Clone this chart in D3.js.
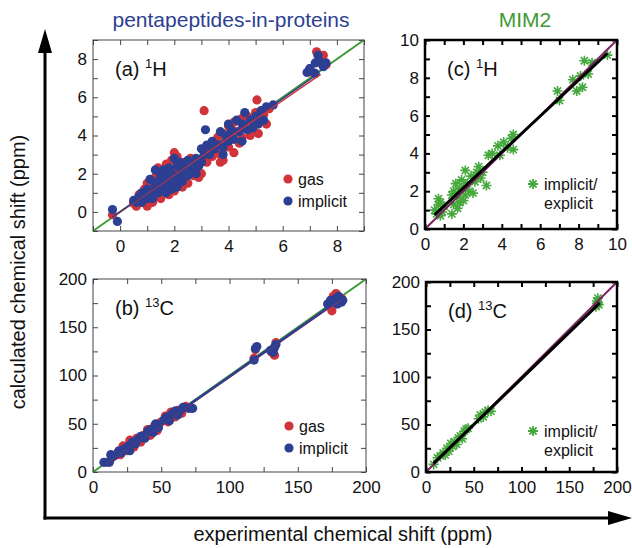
<!DOCTYPE html>
<html>
<meta charset="utf-8">
<style>
    body { margin: 0; background: #fff; }
    text { font-family: 'Liberation Sans', Arial, sans-serif; }
</style>
<body>
<svg id="chart" width="632" height="548"></svg>
<script src="https://d3js.org/d3.v7.min.js"></script>
<script>
// ---- data ----
const hGas = [[-0.28,-0.15],[0.5,0.45],[0.6,0.3],[0.7,0.9],[0.8,0.5],[0.9,1.2],[0.9,0.6],[1.0,1.5],[1.0,0.3],[1.1,0.9],[1.2,1.3],[1.2,0.5],[1.3,1.8],[1.3,0.8],[1.4,2.3],[1.4,1.1],[1.5,0.7],[1.5,1.6],[1.6,2.0],[1.6,1.0],[1.7,2.5],[1.7,1.3],[1.8,1.8],[1.8,0.9],[1.9,2.7],[1.9,1.4],[2.0,3.1],[2.0,2.2],[2.0,1.1],[2.1,2.9],[2.1,1.6],[2.2,2.0],[2.3,1.3],[2.3,2.6],[2.4,1.8],[2.5,2.3],[2.5,1.5],[2.6,2.8],[2.7,1.9],[2.8,2.4],[2.9,1.8],[3.0,2.7],[3.0,2.0],[3.1,5.3],[3.1,3.2],[3.2,2.6],[3.3,3.4],[3.4,2.9],[3.5,3.6],[3.5,3.1],[3.6,3.9],[3.7,3.0],[3.7,2.6],[3.8,4.1],[3.8,2.7],[3.9,3.5],[4.0,4.5],[4.0,3.4],[4.1,3.9],[4.2,4.7],[4.2,3.1],[4.3,4.2],[4.4,3.6],[4.5,4.9],[4.5,3.9],[4.6,4.4],[4.7,5.0],[4.8,4.0],[4.9,4.7],[5.0,5.2],[5.05,5.86],[5.1,4.1],[5.2,4.8],[5.3,5.1],[5.4,4.6],[5.5,5.4],[7.0,7.5],[7.1,7.3],[7.25,8.38],[7.4,7.8],[7.5,8.2],[7.6,7.7]];
const hImplicit = [[-0.28,0.12],[-0.1,-0.5],[0.5,0.6],[0.6,0.5],[0.7,0.8],[0.8,1.0],[0.8,0.5],[0.9,0.9],[1.0,1.2],[1.0,0.7],[1.1,1.7],[1.1,1.0],[1.2,0.7],[1.3,1.4],[1.3,2.2],[1.4,1.0],[1.4,1.6],[1.5,1.9],[1.5,1.2],[1.6,1.5],[1.6,2.2],[1.7,1.0],[1.7,1.8],[1.8,2.3],[1.8,1.4],[1.9,2.0],[1.9,1.2],[2.0,2.8],[2.0,1.7],[2.1,2.4],[2.1,1.3],[2.2,1.9],[2.2,2.6],[2.3,1.6],[2.3,2.2],[2.4,2.5],[2.5,1.9],[2.5,2.7],[2.6,2.2],[2.7,2.5],[2.8,2.0],[2.8,2.8],[2.9,2.4],[3.0,3.3],[3.0,2.6],[3.1,3.0],[3.15,4.3],[3.2,3.5],[3.3,3.0],[3.4,3.7],[3.5,3.3],[3.6,3.5],[3.7,4.2],[3.8,3.4],[3.8,3.0],[3.9,4.0],[4.0,3.7],[4.0,4.6],[4.1,4.3],[4.2,3.8],[4.3,4.8],[4.4,4.2],[4.5,4.6],[4.5,3.7],[4.6,5.2],[4.7,4.3],[4.8,4.8],[4.9,4.4],[5.0,5.0],[5.1,4.6],[5.2,5.3],[5.3,4.8],[5.4,5.5],[5.65,5.6],[6.9,7.3],[7.0,7.5],[7.2,7.8],[7.3,8.2],[7.35,7.9],[7.5,7.6],[7.6,7.8],[7.2,7.25]];
const cGas = [[10,10],[14,15],[18,20],[20,18],[22,27],[25,22],[27,33],[28,28],[30,26],[32,35],[35,31],[37,38],[40,44],[42,38],[45,48],[47,43],[50,52],[53,58],[55,52],[57,62],[60,57],[62,64],[65,61],[68,68],[72,66],[118,118],[119,127],[131,124],[133,121],[134,134],[172,174],[175,167],[176,182],[178,185],[180,176],[182,180]];
const cImplicit = [[8,10],[12,10],[13,18],[16,17],[19,22],[21,20],[23,24],[26,27],[27,22],[29,31],[31,29],[33,34],[35,37],[38,35],[40,42],[42,44],[44,41],[46,50],[48,46],[52,54],[54,57],[56,53],[58,60],[60,63],[62,59],[64,64],[66,67],[70,66],[73,66],[118,116],[120,130],[119,128],[130,126],[132,124],[134,132],[133,129],[172,174],[174,178],[176,176],[178,180],[179,174],[180,182],[182,176],[183,178]];
const mimH = [[0.5,1.0],[0.6,0.8],[0.7,1.3],[0.7,1.6],[0.8,1.4],[0.9,0.9],[1.0,1.2],[0.8,0.7],[1.4,0.8],[1.4,1.8],[1.5,1.3],[1.5,2.0],[1.6,2.4],[1.7,1.1],[1.7,1.7],[1.8,2.1],[1.8,1.4],[1.9,2.6],[2.0,1.5],[2.0,2.2],[2.1,3.1],[2.1,1.8],[2.2,2.4],[2.3,2.0],[2.4,2.8],[2.5,1.9],[2.6,2.5],[2.7,3.0],[2.8,3.3],[2.9,2.7],[3.0,3.0],[3.2,2.3],[3.3,3.9],[3.5,4.0],[3.8,4.4],[3.9,3.9],[4.1,4.6],[4.3,4.3],[4.6,5.0],[4.6,4.2],[4.5,4.8],[6.9,7.3],[7.0,6.8],[7.7,7.9],[7.9,7.3],[8.1,8.1],[8.2,7.5],[8.3,8.9],[8.5,8.2],[8.7,8.8],[9.5,9.2]];
const mimC = [[8,8],[12,15],[15,17],[18,20],[20,18],[22,25],[24,22],[26,30],[28,27],[30,32],[32,29],[34,36],[36,38],[38,35],[40,43],[42,45],[44,46],[55,56],[57,60],[60,58],[62,63],[65,65],[68,64],[178,174],[179,180],[180,178],[181,176],[180,183]];

// fit lines [x1,y1,x2,y2]
const hFitGas = [-0.3, -0.3, 7.4, 7.2];
const hFitImplicit = [-0.3, -0.28, 7.3, 7.22];
const cFitGas = [10, 9.5, 182, 179];
const cFitImplicit = [10, 10, 182, 180];
const mimHFit = [0.5, 0.75, 9.5, 9.3];
const mimCFit = [8, 9, 182, 178];

const hTicks = [-1, 0, 1, 2, 3, 4, 5, 6, 7, 8, 9];
const hLabels = [0, 2, 4, 6, 8];
const cTicks = [0, 25, 50, 75, 100, 125, 150, 175, 200];
const cLabels = [0, 50, 100, 150, 200];
const mTicks = [0, 1, 2, 3, 4, 5, 6, 7, 8, 9, 10];
const mLabels = [0, 2, 4, 6, 8, 10];

const red = "#d0343a", blue = "#2c3f92", green = "#3f9a35", starGreen = "#45a83c", purple = "#7b2360";

const chart = d3.select("#chart");

function panel(opt) {
    const x = d3.scaleLinear().domain(opt.domain).range([opt.x0, opt.x1]);
    const y = d3.scaleLinear().domain(opt.domain).range([opt.y1, opt.y0]);
    const g = chart.append("g");
    const fmt = d => opt.labels.includes(d) ? d : "";

    const axes = [
        [d3.axisBottom(x).tickValues(opt.ticks).tickFormat(fmt).tickPadding(9), "translate(0," + opt.y1 + ")"],
        [d3.axisTop(x).tickValues(opt.ticks).tickFormat(""), "translate(0," + opt.y0 + ")"],
        [d3.axisLeft(y).tickValues(opt.ticks).tickFormat(fmt).tickPadding(6), "translate(" + opt.x0 + ",0)"],
        [d3.axisRight(y).tickValues(opt.ticks).tickFormat(""), "translate(" + opt.x1 + ",0)"]
    ];
    axes.forEach(a => {
        const ax = g.append("g").attr("transform", a[1])
            .call(a[0].tickSize(-opt.tick).tickSizeOuter(0));
        ax.select(".domain").remove();
        ax.selectAll("line").attr("stroke", opt.frameColor).attr("stroke-width", opt.tickWidth);
        ax.selectAll("text").attr("font-size", 17).attr("fill", "#111")
            .attr("font-family", "'Liberation Sans', Arial, sans-serif");
    });

    const plot = g.append("g");
    opt.draw(plot, x, y);

    g.append("rect")
        .attr("x", opt.x0).attr("y", opt.y0)
        .attr("width", opt.x1 - opt.x0).attr("height", opt.y1 - opt.y0)
        .attr("fill", "none").attr("stroke", opt.frameColor).attr("stroke-width", opt.frameWidth);

    const lab = g.append("text").attr("x", opt.x0 + 22).attr("y", opt.y0 + 36)
        .attr("font-size", 20).attr("fill", "#111");
    lab.append("tspan").text(opt.tag + " ");
    lab.append("tspan").attr("font-size", 13).attr("dy", -8).text(opt.iso);
    lab.append("tspan").attr("dy", 8).text(opt.elem);
    return { x, y };
}

function line(p, x, y, seg, color, w) {
    p.append("line")
        .attr("x1", x(seg[0])).attr("y1", y(seg[1]))
        .attr("x2", x(seg[2])).attr("y2", y(seg[3]))
        .attr("stroke", color).attr("stroke-width", w);
}

function dots(p, x, y, data, color) {
    p.append("g").selectAll("circle").data(data).join("circle")
        .attr("cx", d => x(d[0])).attr("cy", d => y(d[1]))
        .attr("r", 4.6).attr("fill", color);
}

const starPath = "M-5,0L5,0M0,-5L0,5M-3.6,-3.6L3.6,3.6M-3.6,3.6L3.6,-3.6";
function stars(p, x, y, data) {
    p.append("g").selectAll("path").data(data).join("path")
        .attr("d", starPath)
        .attr("transform", d => "translate(" + x(d[0]) + "," + y(d[1]) + ")")
        .attr("stroke", starGreen).attr("stroke-width", 1.6).attr("fill", "none");
}

function dotLegend(x0, y0) {
    [["gas", red], ["implicit", blue]].forEach((e, i) => {
        chart.append("circle").attr("cx", x0).attr("cy", y0 + i * 22).attr("r", 4.6).attr("fill", e[1]);
        chart.append("text").attr("x", x0 + 10).attr("y", y0 + i * 22 + 5.5)
            .attr("font-size", 16).attr("fill", "#111").text(e[0]);
    });
}

function starLegend(x0, y0) {
    chart.append("path").attr("d", starPath)
        .attr("transform", "translate(" + x0 + "," + y0 + ")")
        .attr("stroke", starGreen).attr("stroke-width", 1.8).attr("fill", "none");
    chart.append("text").attr("x", x0 + 11).attr("y", y0 + 5.5)
        .attr("font-size", 16).attr("fill", "#111").text("implicit/");
    chart.append("text").attr("x", x0 + 11).attr("y", y0 + 25)
        .attr("font-size", 16).attr("fill", "#111").text("explicit");
}

// (a)
panel({
    x0: 93, x1: 364, y0: 40, y1: 231, domain: [-1, 9], ticks: hTicks, labels: hLabels,
    frameColor: "#444", frameWidth: 1, tick: 5, tickWidth: 1, tag: "(a)", iso: "1", elem: "H",
    draw: (p, x, y) => {
        line(p, x, y, [-1, -1, 9, 9], green, 2);
        dots(p, x, y, hGas, red);
        dots(p, x, y, hImplicit, blue);
        line(p, x, y, hFitGas, red, 1.5);
        line(p, x, y, hFitImplicit, blue, 1.5);
    }
});
dotLegend(288, 179);

// (b)
panel({
    x0: 93, x1: 366, y0: 279, y1: 472, domain: [0, 200], ticks: cTicks, labels: cLabels,
    frameColor: "#444", frameWidth: 1, tick: 5, tickWidth: 1, tag: "(b)", iso: "13", elem: "C",
    draw: (p, x, y) => {
        line(p, x, y, [0, 0, 200, 200], green, 2);
        dots(p, x, y, cGas, red);
        dots(p, x, y, cImplicit, blue);
        line(p, x, y, cFitGas, red, 1.5);
        line(p, x, y, cFitImplicit, blue, 2.5);
    }
});
dotLegend(289, 426);

// (c)
panel({
    x0: 425, x1: 617, y0: 40, y1: 229, domain: [0, 10], ticks: mTicks, labels: mLabels,
    frameColor: "#000", frameWidth: 2.5, tick: 5, tickWidth: 2, tag: "(c)", iso: "1", elem: "H",
    draw: (p, x, y) => {
        stars(p, x, y, mimH);
        line(p, x, y, [0, 0, 10, 10], purple, 2);
        line(p, x, y, mimHFit, "#000", 3);
    }
});
starLegend(533, 184);

// (d)
panel({
    x0: 426, x1: 617, y0: 282, y1: 472, domain: [0, 200], ticks: cTicks, labels: cLabels,
    frameColor: "#000", frameWidth: 2.5, tick: 5, tickWidth: 2, tag: "(d)", iso: "13", elem: "C",
    draw: (p, x, y) => {
        stars(p, x, y, mimC);
        line(p, x, y, [0, 0, 200, 200], purple, 2);
        line(p, x, y, mimCFit, "#000", 3);
    }
});
starLegend(533, 431);

// titles
chart.append("text").attr("x", 231).attr("y", 27).attr("text-anchor", "middle")
    .attr("font-size", 21).attr("fill", blue).text("pentapeptides-in-proteins");
chart.append("text").attr("x", 525).attr("y", 27).attr("text-anchor", "middle")
    .attr("font-size", 21).attr("fill", green).text("MIM2");

// big arrows
chart.append("line").attr("x1", 45).attr("y1", 519.5).attr("x2", 45).attr("y2", 50)
    .attr("stroke", "#000").attr("stroke-width", 3);
chart.append("path").attr("d", "M45,29L52,53L38,53Z").attr("fill", "#000");
chart.append("line").attr("x1", 43.5).attr("y1", 518).attr("x2", 612).attr("y2", 518)
    .attr("stroke", "#000").attr("stroke-width", 3);
chart.append("path").attr("d", "M632,518L608,511L608,525Z").attr("fill", "#000");

chart.append("text").attr("x", 343).attr("y", 541).attr("text-anchor", "middle")
    .attr("font-size", 20).attr("fill", "#111").text("experimental chemical shift (ppm)");
chart.append("text").attr("transform", "translate(25,272)rotate(-90)").attr("text-anchor", "middle")
    .attr("font-size", 20).attr("fill", "#111").text("calculated chemical shift (ppm)");
</script>
</body>
</html>
